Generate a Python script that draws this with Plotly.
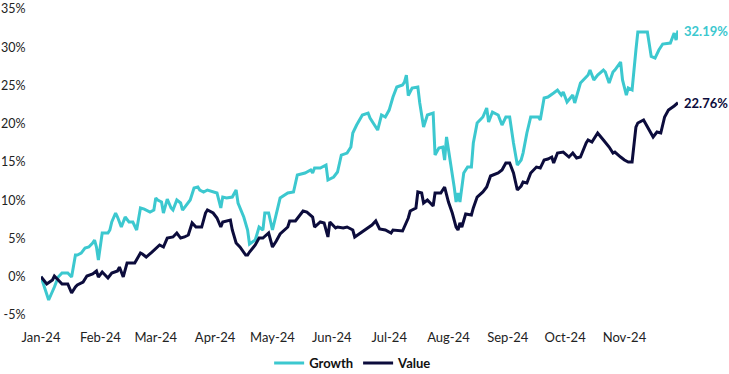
import plotly.graph_objects as go

growth_dates = [
    "2024-01-01", "2024-01-05", "2024-01-08", "2024-01-10", "2024-01-12", "2024-01-15", "2024-01-17",
    "2024-01-19", "2024-01-20", "2024-01-22", "2024-01-24", "2024-01-26", "2024-01-28", "2024-01-29",
    "2024-01-30", "2024-01-31", "2024-02-02", "2024-02-05", "2024-02-06", "2024-02-07", "2024-02-09",
    "2024-02-10", "2024-02-12", "2024-02-14", "2024-02-16", "2024-02-18", "2024-02-20", "2024-02-22",
    "2024-02-24", "2024-02-27", "2024-02-29", "2024-03-01", "2024-03-02", "2024-03-04", "2024-03-05",
    "2024-03-07", "2024-03-09", "2024-03-10", "2024-03-12", "2024-03-14", "2024-03-15", "2024-03-17",
    "2024-03-19", "2024-03-21", "2024-03-23", "2024-03-24", "2024-03-26", "2024-03-28", "2024-03-31",
    "2024-04-02", "2024-04-04", "2024-04-05", "2024-04-07", "2024-04-10", "2024-04-12", "2024-04-13",
    "2024-04-16", "2024-04-18", "2024-04-19", "2024-04-22", "2024-04-24", "2024-04-26", "2024-04-27",
    "2024-04-29", "2024-05-01", "2024-05-03", "2024-05-05", "2024-05-09", "2024-05-12", "2024-05-14",
    "2024-05-18", "2024-05-21", "2024-05-22", "2024-05-23", "2024-05-26", "2024-05-29", "2024-05-30",
    "2024-06-02", "2024-06-04", "2024-06-06", "2024-06-09", "2024-06-11", "2024-06-12", "2024-06-14",
    "2024-06-17", "2024-06-20", "2024-06-21", "2024-06-25", "2024-06-27", "2024-06-29", "2024-07-01",
    "2024-07-03", "2024-07-05", "2024-07-08", "2024-07-09", "2024-07-10", "2024-07-11", "2024-07-13",
    "2024-07-16", "2024-07-17", "2024-07-19", "2024-07-21", "2024-07-24", "2024-07-25", "2024-07-27",
    "2024-07-29", "2024-07-30", "2024-07-31", "2024-08-02", "2024-08-04", "2024-08-05", "2024-08-06",
    "2024-08-07", "2024-08-09", "2024-08-11", "2024-08-13", "2024-08-14", "2024-08-16", "2024-08-19",
    "2024-08-21", "2024-08-22", "2024-08-24", "2024-08-27", "2024-08-29", "2024-08-31", "2024-09-02",
    "2024-09-04", "2024-09-06", "2024-09-08", "2024-09-09", "2024-09-11", "2024-09-13", "2024-09-17",
    "2024-09-18", "2024-09-20", "2024-09-22", "2024-09-25", "2024-09-27", "2024-09-29", "2024-09-30",
    "2024-10-02", "2024-10-05", "2024-10-06", "2024-10-09", "2024-10-13", "2024-10-14", "2024-10-16",
    "2024-10-18", "2024-10-21", "2024-10-22", "2024-10-24", "2024-10-26", "2024-10-27", "2024-10-30",
    "2024-10-31", "2024-11-02", "2024-11-03", "2024-11-05", "2024-11-07", "2024-11-08", "2024-11-13",
    "2024-11-15", "2024-11-17", "2024-11-19", "2024-11-21", "2024-11-25", "2024-11-27", "2024-11-28",
    "2024-11-29",
]
growth_values = [
    0.00, -3.04, -1.34, -0.03, 0.49, 0.49, -0.03,
    2.84, 2.84, 3.10, 3.76, 3.89, 4.41, 4.80,
    3.89, 2.19, 5.72, 5.72, 6.11, 7.16, 8.33,
    7.81, 6.50, 7.81, 7.16, 7.16, 6.11, 8.99,
    8.85, 8.46, 8.72, 10.29, 10.03, 9.77, 8.33,
    10.16, 8.99, 8.72, 10.03, 9.64, 8.72, 9.38,
    10.03, 11.60, 11.73, 11.34, 11.08, 11.34, 11.08,
    10.95, 8.99, 10.42, 10.29, 10.42, 11.34, 9.64,
    7.81, 6.11, 4.28, 4.80, 6.50, 6.11, 8.33,
    8.33, 6.11, 8.33, 10.29, 10.95, 11.08, 13.30,
    13.56, 13.95, 13.56, 14.21, 14.21, 14.61, 12.65,
    13.04, 13.69, 15.91, 16.17, 16.96, 18.79, 19.83,
    21.14, 21.40, 20.75, 19.18, 21.14, 20.88, 21.79,
    23.49, 24.80, 25.06, 25.45, 26.37, 23.69, 24.67,
    24.80, 22.71, 19.57, 21.14, 21.40, 15.91, 16.83,
    16.96, 15.26, 18.27, 15.26, 11.73, 9.77, 10.95,
    9.77, 13.56, 14.34, 14.34, 17.48, 20.10, 20.88,
    22.06, 20.23, 21.53, 21.14, 19.83, 20.88, 20.88,
    17.48, 14.61, 15.26, 16.17, 18.79, 20.88, 20.88,
    20.49, 23.36, 23.49, 24.02, 24.41, 23.75, 24.15,
    22.84, 23.75, 22.71, 25.32, 26.37, 27.02, 25.72,
    26.37, 27.02, 26.76, 25.32, 26.76, 27.02, 28.07,
    25.72, 23.75, 24.67, 24.41, 29.64, 31.99, 31.99,
    28.80, 28.59, 29.64, 30.42, 30.55, 31.86, 30.94,
    32.19,
]

value_dates = [
    "2024-01-01", "2024-01-04", "2024-01-07", "2024-01-08", "2024-01-10", "2024-01-12", "2024-01-15",
    "2024-01-17", "2024-01-19", "2024-01-20", "2024-01-23", "2024-01-25", "2024-01-28", "2024-01-30",
    "2024-01-31", "2024-02-02", "2024-02-05", "2024-02-07", "2024-02-10", "2024-02-11", "2024-02-13",
    "2024-02-15", "2024-02-19", "2024-02-22", "2024-02-23", "2024-02-25", "2024-02-28", "2024-03-02",
    "2024-03-03", "2024-03-05", "2024-03-07", "2024-03-10", "2024-03-12", "2024-03-14", "2024-03-16",
    "2024-03-18", "2024-03-20", "2024-03-22", "2024-03-25", "2024-03-27", "2024-03-28", "2024-03-31",
    "2024-04-02", "2024-04-04", "2024-04-05", "2024-04-09", "2024-04-10", "2024-04-12", "2024-04-14",
    "2024-04-17", "2024-04-18", "2024-04-19", "2024-04-22", "2024-04-24", "2024-04-26", "2024-04-29",
    "2024-05-01", "2024-05-03", "2024-05-05", "2024-05-09", "2024-05-10", "2024-05-13", "2024-05-17",
    "2024-05-19", "2024-05-22", "2024-05-23", "2024-05-26", "2024-05-28", "2024-05-30", "2024-05-31",
    "2024-06-03", "2024-06-04", "2024-06-07", "2024-06-09", "2024-06-12", "2024-06-13", "2024-06-16",
    "2024-06-20", "2024-06-22", "2024-06-24", "2024-06-26", "2024-06-29", "2024-07-02", "2024-07-03",
    "2024-07-08", "2024-07-11", "2024-07-12", "2024-07-15", "2024-07-16", "2024-07-18", "2024-07-19",
    "2024-07-21", "2024-07-24", "2024-07-25", "2024-07-28", "2024-07-30", "2024-08-01", "2024-08-03",
    "2024-08-05", "2024-08-06", "2024-08-07", "2024-08-08", "2024-08-10", "2024-08-13", "2024-08-14",
    "2024-08-16", "2024-08-19", "2024-08-21", "2024-08-23", "2024-08-27", "2024-08-29", "2024-08-31",
    "2024-09-02", "2024-09-04", "2024-09-06", "2024-09-08", "2024-09-09", "2024-09-11", "2024-09-13",
    "2024-09-16", "2024-09-18", "2024-09-20", "2024-09-22", "2024-09-24", "2024-09-25", "2024-09-27",
    "2024-09-30", "2024-10-03", "2024-10-05", "2024-10-07", "2024-10-09", "2024-10-12", "2024-10-13",
    "2024-10-15", "2024-10-17", "2024-10-18", "2024-10-21", "2024-10-24", "2024-10-26", "2024-10-27",
    "2024-10-30", "2024-11-01", "2024-11-03", "2024-11-05", "2024-11-07", "2024-11-08", "2024-11-11",
    "2024-11-13", "2024-11-16", "2024-11-18", "2024-11-20", "2024-11-22", "2024-11-24", "2024-11-27",
    "2024-11-29",
]
value_values = [
    0.00, -0.95, -0.42, 0.10, -0.42, -0.95, -0.95,
    -2.12, -1.34, -1.08, -0.69, 0.10, 0.36, 0.75,
    -0.03, 0.62, -0.16, 0.49, 0.75, 1.27, -0.03,
    1.80, 1.80, 3.10, 2.97, 2.58, 3.23, 3.89,
    4.15, 3.89, 5.06, 5.20, 5.72, 5.06, 5.20,
    5.46, 7.03, 6.50, 6.50, 8.33, 8.72, 8.33,
    7.68, 6.50, 7.16, 7.42, 6.11, 4.41, 3.89,
    2.84, 2.84, 3.23, 4.15, 5.06, 5.06, 5.72,
    3.89, 4.67, 5.59, 6.50, 7.29, 7.29, 8.59,
    8.46, 7.81, 6.50, 7.16, 7.03, 5.20, 7.16,
    6.37, 6.50, 6.37, 6.50, 6.11, 5.20, 5.72,
    6.37, 6.76, 7.29, 6.24, 6.11, 5.72, 6.11,
    5.98, 7.68, 8.59, 8.99, 11.08, 10.95, 9.64,
    10.03, 9.25, 10.95, 10.95, 11.73, 9.77, 8.33,
    6.50, 6.11, 7.03, 6.50, 8.20, 8.07, 8.99,
    10.42, 11.08, 11.73, 13.17, 13.56, 13.95, 14.87,
    14.87, 13.56, 11.34, 11.86, 12.38, 12.25, 13.56,
    14.34, 14.21, 15.26, 15.39, 15.65, 14.87, 16.17,
    16.30, 15.65, 16.17, 15.52, 15.65, 17.48, 17.87,
    17.61, 18.53, 18.79, 17.87, 16.96, 16.17, 16.30,
    15.65, 15.26, 15.00, 15.00, 19.57, 20.10, 20.49,
    19.57, 18.27, 18.92, 18.79, 20.88, 21.79, 22.32,
    22.76,
]

series_names = ["Growth", "Value"]
series_colors = ["#3CC8CF", "#0C0C3C"]
y_tickvals = [-5, 0, 5, 10, 15, 20, 25, 30, 35]
y_ticktext = ["-5%", "0%", "5%", "10%", "15%", "20%", "25%", "30%", "35%"]
x_tickvals = ["2024-01-01", "2024-02-01", "2024-03-01", "2024-04-01", "2024-05-01", "2024-06-01",
              "2024-07-01", "2024-08-01", "2024-09-01", "2024-10-01", "2024-11-01"]
x_ticktext = ["Jan-24", "Feb-24", "Mar-24", "Apr-24", "May-24", "Jun-24",
              "Jul-24", "Aug-24", "Sep-24", "Oct-24", "Nov-24"]

FONT = "Lato"

fig = go.Figure()
for name, dates, vals, col in zip(series_names, [growth_dates, value_dates],
                                  [growth_values, value_values], series_colors):
    fig.add_trace(go.Scatter(x=dates, y=vals, mode="lines", name=name,
                             line=dict(color=col, width=3), cliponaxis=False))
    fig.add_annotation(x=dates[-1], y=vals[-1], text=f"<b>{vals[-1]:.2f}%</b>",
                       showarrow=False, xanchor="left", yanchor="middle", xshift=4,
                       font=dict(family=FONT, size=13, color=col))

fig.update_layout(
    width=729, height=374,
    margin=dict(l=41, r=51, t=9, b=59, autoexpand=False),
    paper_bgcolor="white", plot_bgcolor="white",
    font=dict(family=FONT, size=13, color="#222222"),
    showlegend=True,
    legend=dict(orientation="h", x=0.49, xanchor="center", y=-0.157, yanchor="middle",
                font=dict(family=FONT, size=13, color="#111111", weight="bold"),
                itemwidth=30, tracegroupgap=0),
    xaxis=dict(type="date", range=["2024-01-01", "2024-11-29"],
               tickvals=x_tickvals, ticktext=x_ticktext,
               showgrid=False, zeroline=False, showline=False,
               ticks="outside", ticklen=10, tickcolor="rgba(0,0,0,0)"),
    yaxis=dict(range=[-5, 35], tickvals=y_tickvals, ticktext=y_ticktext,
               tickfont=dict(size=12.5),
               showgrid=False, zeroline=False, showline=False,
               ticks="outside", ticklen=12, tickcolor="rgba(0,0,0,0)"),
)

fig.write_html("out.html")
